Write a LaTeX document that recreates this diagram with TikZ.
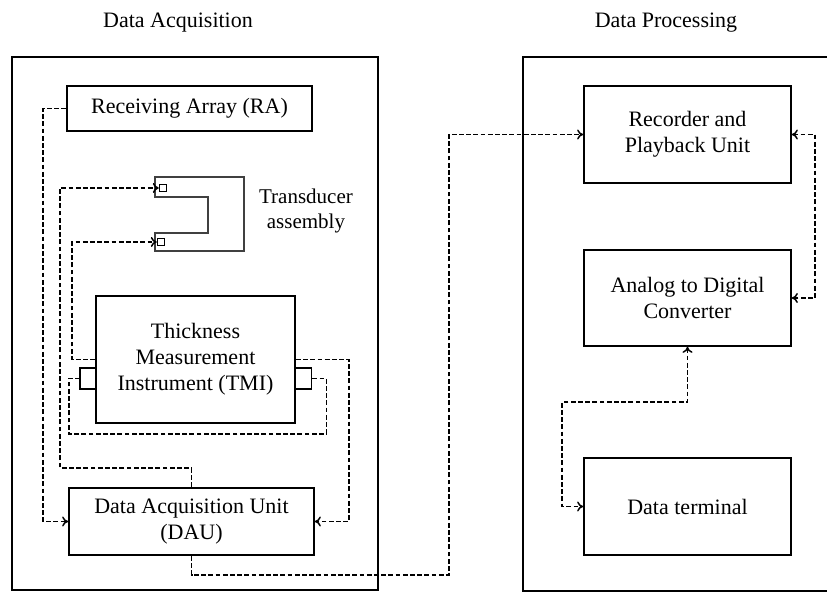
\documentclass[tikz,border=0pt]{standalone}
\usepackage{fontspec}
\setmainfont{Liberation Serif}
\usepackage{tikz}
\usetikzlibrary{arrows.meta}

\tikzset{
  unit/.style={draw, line width=0.9pt, inner sep=1pt, align=center},
  port/.style={draw, line width=0.7pt, inner sep=0pt, minimum size=3.5pt},
  tmiport/.style={draw, line width=0.8pt, inner sep=0pt, minimum width=8pt, minimum height=10.5pt},
  link/.style={line width=0.75pt, dash pattern=on 2.4pt off 1.2pt},
  tip/.style={-{To[length=3pt,width=5pt]}},
  tips/.style={{To[length=3pt,width=5pt]}-{To[length=3pt,width=5pt]}}
}

\begin{document}
\begin{tikzpicture}[x=0.5pt,y=-0.5pt,font=\fontsize{11}{13}\selectfont]
\useasboundingbox (0,0) rectangle (827,592);
% titles
\node (tacq) at (178,23){Data Acquisition};
\node (tproc) at (666,23){Data Processing};
% outer frames
\draw[line width=0.7pt] (12,57) rectangle (378,590);
\draw[line width=0.7pt] (827,57) -- (523,57) -- (523,591) -- (827,591);
% acquisition side
\node[unit, minimum width=122.5pt, minimum height=22.5pt](ra) at (189.5,108.5){Receiving Array (RA)};
\node[unit, minimum width=99.5pt, minimum height=63.5pt](tmi) at (195.5,359.5){Thickness\\Measurement\\Instrument (TMI)};
\node[unit, minimum width=122.5pt, minimum height=33.5pt](dau) at (191.5,521.5){Data Acquisition Unit\\(DAU)};
\node[tmiport](portl) at (88,378.5){};
\node[tmiport](portr) at (303.5,378.5){};
% transducer assembly
\draw[line width=0.8pt, black!75] (155,177) -- (244,177) -- (244,251) -- (155,251) -- (155,233)
  -- (208,233) -- (208,197) -- (155,197) -- cycle;
\node[port, fill=white](sq1) at (163,188){};
\node[port, fill=white](sq2) at (161,242){};
\node[align=center, font=\fontsize{10.5}{12.5}\selectfont, inner sep=0pt](trans) at (306,211){Transducer\\assembly};
% processing side
\node[unit, minimum width=103.5pt, minimum height=48.5pt](rec) at (687.5,134.5){Recorder and\\Playback Unit};
\node[unit, minimum width=103.5pt, minimum height=48pt](adc) at (687.5,298){Analog to Digital\\Converter};
\node[unit, minimum width=103.5pt, minimum height=48.5pt](dt) at (687.5,506.5){Data terminal};
% connectors
\draw[link,tip] (ra.west) -- ++(-23,0) |- (dau.west);
\draw[link,tip] (dau.north) |- (60,468) |- (sq1.west);
\draw[link,tip] (tmi.west) -- ++(-23,0) |- (sq2.west);
\draw[link,tip] (tmi.east) -- ++(53,0) |- (dau.east);
\draw[link] (portr.east) -- ++(14,0) |- (69,434) |- (portl.west);
\draw[link,tip] (dau.south) |- (449,575) |- (rec.west);
\draw[link,tips] (rec.east) -- ++(23,0) |- (adc.east);
\draw[link,tips] (adc.south) |- (562,402) |- (dt.west);
\end{tikzpicture}
\end{document}
